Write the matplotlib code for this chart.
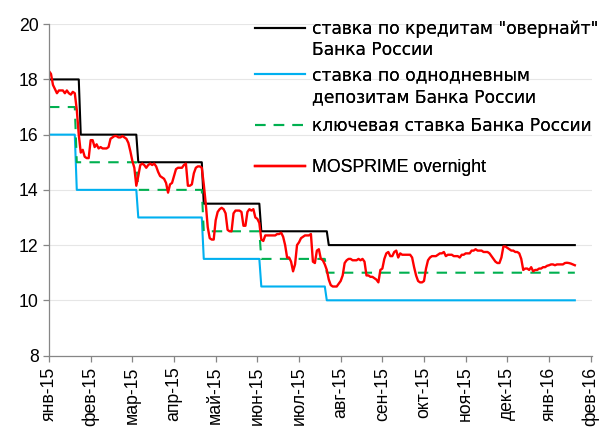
import matplotlib
matplotlib.use("Agg")
import matplotlib.pyplot as plt
from matplotlib.lines import Line2D

plt.rcParams['font.family'] = ['Liberation Sans', 'DejaVu Sans']

# ---- data (x = trading-day number from start of 2015) ----
tick_labels = ["янв-15", "фев-15", "мар-15", "апр-15", "май-15", "июн-15", "июл-15",
               "авг-15", "сен-15", "окт-15", "ноя-15", "дек-15", "янв-16", "фев-16"]
tick_step = 21
last_day = 265

overnight_levels = [18, 16, 15, 13.5, 12.5, 12]
overnight_changes = [16, 45, 78, 107, 141]
deposit_levels = [16, 14, 13, 11.5, 10.5, 10]
deposit_changes = [14, 45, 78, 107, 140]
key_levels = [17, 15, 14, 12.5, 11.5, 11]
key_changes = [14, 45, 78, 107, 140]

mosprime = [
    18.3, 18.2, 17.8, 17.65, 17.5, 17.6, 17.6, 17.6, 17.5, 17.6,
    17.5, 17.45, 17.55, 17.5, 16.9, 16.0, 15.35, 15.45, 15.2, 15.15,
    15.15, 15.8, 15.8, 15.55, 15.65, 15.5, 15.55, 15.5, 15.5, 15.5,
    15.55, 15.85, 15.9, 15.95, 15.95, 15.9, 15.9, 15.95, 15.9, 15.85,
    15.7, 15.4, 15.05, 14.8, 14.15, 14.5, 14.9, 14.95, 14.9, 14.8,
    14.9, 14.95, 14.9, 14.95, 14.85, 14.65, 14.5, 14.45, 14.4, 14.25,
    13.9, 14.2, 14.25, 14.5, 14.75, 14.8, 14.8, 14.8, 14.9, 14.95,
    14.15, 14.15, 14.2, 14.6, 14.8, 14.85, 14.85, 14.8, 14.2, 13.5,
    12.65, 12.25, 12.2, 12.2, 12.9, 13.2, 13.3, 13.35, 13.3, 13.15,
    12.55, 12.5, 12.5, 13.15, 13.25, 13.25, 13.25, 13.2, 12.7, 12.7,
    13.2, 13.3, 13.25, 13.3, 13.0, 12.95, 12.8, 12.2, 12.15, 12.35,
    12.35, 12.35, 12.35, 12.35, 12.35, 12.4, 12.4, 12.45, 12.3, 12.0,
    11.55, 11.55, 11.4, 11.05, 11.3, 12.0, 12.1, 12.25, 12.3, 12.35,
    12.35, 12.35, 12.4, 11.4, 11.35, 11.8, 11.85, 11.5, 11.45, 11.3,
    11.1, 10.75, 10.55, 10.5, 10.5, 10.5, 10.6, 10.7, 10.9, 11.35,
    11.45, 11.5, 11.5, 11.45, 11.45, 11.45, 11.5, 11.45, 11.5, 11.4,
    10.9, 10.9, 10.85, 10.85, 10.8, 10.75, 10.65, 11.1, 11.15, 11.5,
    11.7, 11.75, 11.6, 11.6, 11.75, 11.8, 11.55, 11.7, 11.65, 11.65,
    11.65, 11.65, 11.65, 11.55, 11.2, 10.9, 10.7, 10.65, 10.65, 10.7,
    11.15, 11.45, 11.55, 11.6, 11.6, 11.6, 11.65, 11.7, 11.7, 11.75,
    11.6, 11.65, 11.65, 11.65, 11.6, 11.6, 11.6, 11.55, 11.65, 11.65,
    11.7, 11.7, 11.7, 11.8, 11.8, 11.85, 11.8, 11.8, 11.8, 11.75,
    11.75, 11.75, 11.7, 11.6, 11.5, 11.4, 11.35, 11.35, 11.55, 11.95,
    11.95, 11.9, 11.85, 11.8, 11.8, 11.75, 11.75, 11.7, 11.5, 11.1,
    11.15, 11.15, 11.1, 11.2, 11.05, 11.1, 11.1, 11.15, 11.15, 11.2,
    11.2, 11.25, 11.27, 11.3, 11.3, 11.27, 11.3, 11.3, 11.3, 11.3,
    11.35, 11.36, 11.35, 11.33, 11.3, 11.27,
]

labels = ['ставка по кредитам "овернайт"\nБанка России',
          'ставка по однодневным\nдепозитам Банка России',
          'ключевая ставка Банка России',
          'MOSPRIME overnight']


def step_series(levels, changes, end):
    xs, ys = [0], [levels[0]]
    for c, prev, new in zip(changes, levels[:-1], levels[1:]):
        xs += [c - 1, c]
        ys += [prev, new]
    xs.append(end)
    ys.append(levels[-1])
    return xs, ys


fig = plt.figure(figsize=(5.99, 4.32), dpi=100)
ax = fig.add_axes([0.0818, 0.177, 0.906, 0.767])

styles = [
    dict(color='black', lw=1.5),
    dict(color='#00B0F0', lw=1.5),
    dict(color='#00B050', lw=1.5, dashes=(5, 4)),
    dict(color='#FF0000', lw=1.7),
]

ax.plot(*step_series(overnight_levels, overnight_changes, last_day), **styles[0])
ax.plot(*step_series(deposit_levels, deposit_changes, last_day), **styles[1])
ax.plot(*step_series(key_levels, key_changes, last_day), **styles[2])
ax.plot(range(len(mosprime)), mosprime, **styles[3])

ax.set_ylim(8, 20)
ax.set_yticks(range(8, 21, 2))
ticks = [i * tick_step for i in range(len(tick_labels))]
ax.set_xticks(ticks)
ax.set_xticklabels(tick_labels, rotation=90)
ax.set_xlim(0, ticks[-1] + 0.5)

ax.grid(axis='y', color='#E6E6E6', lw=0.8)
ax.set_axisbelow(True)
for s in ['top', 'right']:
    ax.spines[s].set_visible(False)
for s in ['left', 'bottom']:
    ax.spines[s].set_color('#868686')
    ax.spines[s].set_linewidth(0.9)
ax.tick_params(axis='both', colors='#868686', labelcolor='black', labelsize=12.7,
               length=4, width=0.9)
ax.tick_params(axis='x', pad=4)

# legend: handle aligned with the first line of each label
legend_y = [(0.933, 0.884), (0.826, 0.775), (0.708,), (0.613,)]
for lab, st, ys in zip(labels, styles, legend_y):
    for k, (line, yy) in enumerate(zip(lab.split('\n'), ys)):
        h = Line2D([], [], **st) if k == 0 else Line2D([], [], color='none')
        cyr = any('\u0400' <= ch <= '\u04ff' for ch in line)
        fam = ['DejaVu Sans'] if cyr else ['Liberation Sans']
        size = 12.3 if cyr else 12.7
        lg = fig.legend([h], [line], loc='center left', bbox_to_anchor=(0.4257, yy),
                        frameon=False, prop={'family': fam, 'size': size},
                        handlelength=2.85 * 12.7 / size,
                        handletextpad=0.4 * 12.7 / size, borderpad=0, borderaxespad=0)
        fig.add_artist(lg)

fig.savefig('out.png', dpi=100)
